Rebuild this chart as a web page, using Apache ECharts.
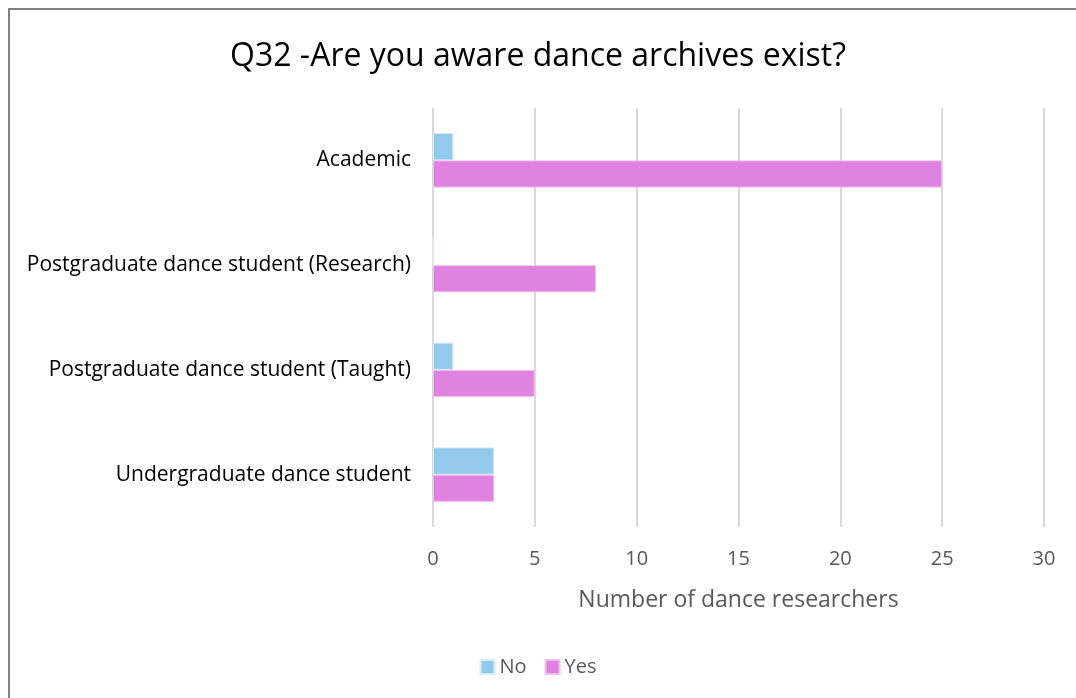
<!DOCTYPE html>
<html><head><meta charset="utf-8">
<script src="https://cdn.jsdelivr.net/npm/echarts@6/dist/echarts.min.js"></script>
<style>html,body{margin:0;padding:0;background:#fff}#c{width:1076px;height:698px}</style>
</head><body><div id="c"></div>
<script>
const categories = ["Academic", "Postgraduate dance student (Research)", "Postgraduate dance student (Taught)", "Undergraduate dance student"];
const noValues = [1, 0, 1, 3];
const yesValues = [25, 8, 5, 3];
const xTicks = [0, 5, 10, 15, 20, 25, 30];
const FONT = "Open Sans";
const chart = echarts.init(document.getElementById('c'), null, {renderer: 'canvas'});
chart.setOption({
  animation: false,
  backgroundColor: '#fff',
  title: {
    text: 'Q32 -Are you aware dance archives exist?',
    left: 'center', top: 36,
    textStyle: {fontFamily: FONT, fontSize: 32, fontWeight: 'normal', color: '#000'}
  },
  graphic: [{
    type: 'rect', shape: {x: 9, y: 9, width: 1200, height: 800},
    style: {fill: 'none', stroke: '#555', lineWidth: 1.5}, silent: true
  }],
  legend: {
    bottom: 16, left: 'center', itemWidth: 14, itemHeight: 14, itemGap: 18,
    icon: 'rect',
    textStyle: {fontFamily: FONT, fontSize: 20, color: '#595959'},
    data: ['No', 'Yes']
  },
  grid: {left: 433, right: 32, top: 108, bottom: 171, containLabel: false},
  xAxis: {
    type: 'value', min: xTicks[0], max: xTicks[xTicks.length - 1], interval: 5,
    name: 'Number of dance researchers', nameLocation: 'middle', nameGap: 62,
    nameTextStyle: {fontFamily: FONT, fontSize: 23, color: '#595959'},
    axisLabel: {fontFamily: FONT, fontSize: 20, color: '#595959', margin: 22},
    axisLine: {show: false}, axisTick: {show: false},
    splitLine: {lineStyle: {color: '#d9d9d9', width: 2}}
  },
  yAxis: {
    type: 'category', data: categories, inverse: true,
    axisLabel: {fontFamily: FONT, fontSize: 21, color: '#000', margin: 22},
    axisLine: {show: false}, axisTick: {show: false}
  },
  series: [
    {name: 'No', type: 'bar', data: noValues, barGap: '0%', barCategoryGap: '48%',
     itemStyle: {color: '#93C9EA', borderColor: '#d8ecf8', borderWidth: 1}},
    {name: 'Yes', type: 'bar', data: yesValues, barGap: '0%', barCategoryGap: '48%',
     itemStyle: {color: '#E082E0', borderColor: '#f0c0f0', borderWidth: 1}}
  ]
});
</script></body></html>
